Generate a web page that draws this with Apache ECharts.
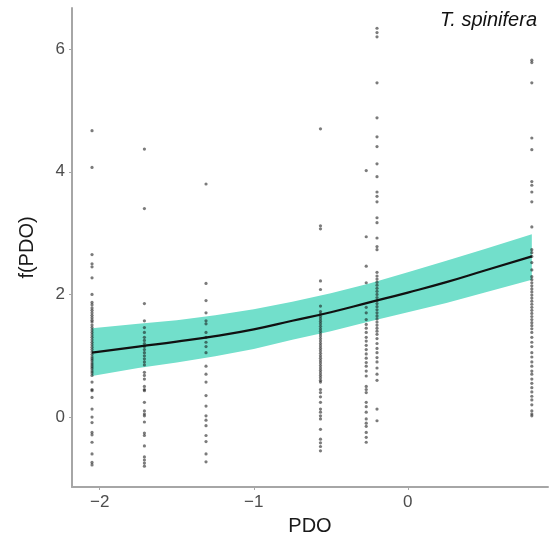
<!DOCTYPE html>
<html>
<head>
<meta charset="utf-8">
<script src="https://cdn.jsdelivr.net/npm/echarts@6/dist/echarts.min.js"></script>
<style>html,body{margin:0;padding:0;background:#fff}#c{width:551px;height:541px}</style>
</head>
<body>
<div id="c"></div>
<script>
// Fitted curve and confidence band
var fitX     = [-2.05, -1.75, -1.5, -1.25, -1.0, -0.75, -0.5, -0.25, 0.0, 0.25, 0.5, 0.805];
var fitY     = [1.05, 1.15, 1.23, 1.32, 1.43, 1.57, 1.71, 1.87, 2.03, 2.20, 2.39, 2.62];
var fitLower = [0.67, 0.80, 0.89, 0.99, 1.11, 1.26, 1.40, 1.56, 1.71, 1.86, 2.03, 2.24];
var fitUpper = [1.45, 1.52, 1.58, 1.66, 1.76, 1.88, 2.02, 2.18, 2.36, 2.55, 2.74, 2.98];

// Observations: PDO value of each column and its f(PDO) values
var colX = [-2.05, -1.71, -1.31, -0.567, -0.27, -0.20, 0.805];
var col1 = [4.67, 4.07, 2.65, 2.5, 2.45, 2.27, 2.0, 1.87, 1.83, 1.78, 1.74, 1.7, 1.66, 1.62, 1.58, 1.55, 1.5, 1.46, 1.42, 1.38, 1.34, 1.3, 1.26, 1.22, 1.18, 1.14, 1.1, 1.06, 1.02, 0.98, 0.95, 0.92, 0.88, 0.85, 0.82, 0.79, 0.75, 0.72, 0.68, 0.57, 0.45, 0.43, 0.32, 0.13, 0.0, -0.09, -0.25, -0.29, -0.41, -0.6, -0.74, -0.78];
var col2 = [4.37, 3.4, 1.85, 1.57, 1.46, 1.38, 1.3, 1.25, 1.2, 1.15, 1.1, 1.05, 1.0, 0.95, 0.9, 0.85, 0.73, 0.68, 0.62, 0.5, 0.45, 0.43, 0.24, 0.1, 0.05, 0.02, -0.08, -0.26, -0.3, -0.47, -0.65, -0.7, -0.75, -0.8];
var col3 = [3.8, 2.18, 1.9, 1.7, 1.57, 1.52, 1.38, 1.3, 1.22, 1.15, 1.05, 0.83, 0.7, 0.57, 0.35, 0.18, 0.02, -0.05, -0.14, -0.3, -0.4, -0.6, -0.73];
var col4 = [4.7, 3.12, 3.07, 2.22, 2.08, 1.81, 1.72, 1.68, 1.64, 1.6, 1.56, 1.52, 1.48, 1.44, 1.4, 1.36, 1.32, 1.28, 1.24, 1.2, 1.16, 1.12, 1.08, 1.04, 1.0, 0.96, 0.92, 0.88, 0.84, 0.8, 0.76, 0.72, 0.68, 0.64, 0.6, 0.57, 0.45, 0.4, 0.33, 0.24, 0.13, 0.08, 0.02, -0.03, -0.2, -0.36, -0.42, -0.48, -0.55];
var col5 = [4.02, 2.94, 2.46, 2.19, 1.79, 1.7, 1.59, 1.51, 1.45, 1.38, 1.3, 1.24, 1.17, 1.1, 1.03, 0.96, 0.89, 0.83, 0.75, 0.67, 0.5, 0.45, 0.4, 0.24, 0.17, 0.08, -0.03, -0.1, -0.15, -0.25, -0.33, -0.41];
var col6 = [6.34, 6.27, 6.2, 5.45, 4.88, 4.57, 4.41, 4.13, 3.92, 3.67, 3.6, 3.51, 3.25, 3.17, 2.92, 2.78, 2.73, 2.36, 2.3, 2.25, 2.2, 2.15, 2.1, 2.05, 2.0, 1.95, 1.9, 1.85, 1.8, 1.75, 1.7, 1.65, 1.6, 1.55, 1.5, 1.45, 1.4, 1.35, 1.28, 1.2, 1.12, 1.05, 0.97, 0.9, 0.8, 0.7, 0.6, 0.13, -0.06];
var col7 = [5.82, 5.78, 5.45, 4.55, 4.36, 3.84, 3.78, 3.67, 3.51, 3.1, 2.73, 2.68, 2.62, 2.52, 2.4, 2.29, 2.24, 2.19, 2.14, 2.09, 2.04, 1.99, 1.94, 1.89, 1.84, 1.79, 1.74, 1.69, 1.64, 1.59, 1.54, 1.49, 1.44, 1.38, 1.3, 1.22, 1.15, 1.05, 0.98, 0.9, 0.83, 0.75, 0.7, 0.62, 0.55, 0.48, 0.41, 0.34, 0.28, 0.2, 0.1, 0.05, 0.02];

var xTicks = [-2, -1, 0];
var yTicks = [0, 2, 4, 6];
var xName = 'PDO';
var yName = 'f(PDO)';
var panelTitle = 'T. spinifera';

var cols = [col1, col2, col3, col4, col5, col6, col7];
var pts = [];
cols.forEach(function (c, i) { c.forEach(function (v) { pts.push([colX[i], v]); }); });

var lineData = fitX.map(function (x, i) { return [x, fitY[i]]; });

var font = 'Liberation Sans, Arial, Helvetica, sans-serif';
var chart = echarts.init(document.getElementById('c'), null, { renderer: 'canvas' });
chart.setOption({
  animation: false,
  backgroundColor: '#fff',
  title: {
    text: panelTitle, right: 9, top: 5,
    textStyle: { fontFamily: font, fontStyle: 'italic', fontWeight: 'normal', fontSize: 20, color: '#111' }
  },
  grid: { left: 72, right: 3, top: 8, bottom: 53, containLabel: false },
  xAxis: {
    type: 'value', min: -2.18, max: 0.91,
    name: xName, nameLocation: 'middle', nameGap: 29,
    nameTextStyle: { fontFamily: font, fontSize: 20, color: '#1a1a1a' },
    axisLine: { show: true, onZero: false, lineStyle: { color: '#a6a6a6', width: 2 } },
    axisTick: { show: true, length: 3, customValues: xTicks, lineStyle: { color: '#a6a6a6', width: 1 } },
    axisLabel: { customValues: xTicks, fontFamily: font, fontSize: 17, color: '#4d4d4d', margin: 7,
      formatter: function (v) { return String(v).replace('-', '\u2212'); } },
    splitLine: { show: false }
  },
  yAxis: {
    type: 'value', min: -1.14, max: 6.67,
    name: yName, nameLocation: 'middle', nameGap: 35,
    nameTextStyle: { fontFamily: font, fontSize: 20, color: '#1a1a1a' },
    axisLine: { show: true, onZero: false, lineStyle: { color: '#a6a6a6', width: 2 } },
    axisTick: { show: true, length: 3, customValues: yTicks, lineStyle: { color: '#a6a6a6', width: 1 } },
    axisLabel: { customValues: yTicks, fontFamily: font, fontSize: 17, color: '#4d4d4d', margin: 7 },
    splitLine: { show: false }
  },
  series: [
    { type: 'custom', silent: true, z: 1, data: [0],
      renderItem: function (params, api) {
        var poly = [];
        for (var i = 0; i < fitX.length; i++) poly.push(api.coord([fitX[i], fitUpper[i]]));
        for (var j = fitX.length - 1; j >= 0; j--) poly.push(api.coord([fitX[j], fitLower[j]]));
        return { type: 'polygon', shape: { points: poly }, style: { fill: '#72dfcb' } };
      } },
    { type: 'scatter', data: pts, symbol: 'circle', symbolSize: 3.2,
      itemStyle: { color: 'rgba(20,20,20,0.7)' }, z: 2 },
    { type: 'line', data: lineData, symbol: 'none', smooth: true,
      lineStyle: { color: '#111', width: 2.2 }, z: 3 }
  ]
});
</script>
</body>
</html>
